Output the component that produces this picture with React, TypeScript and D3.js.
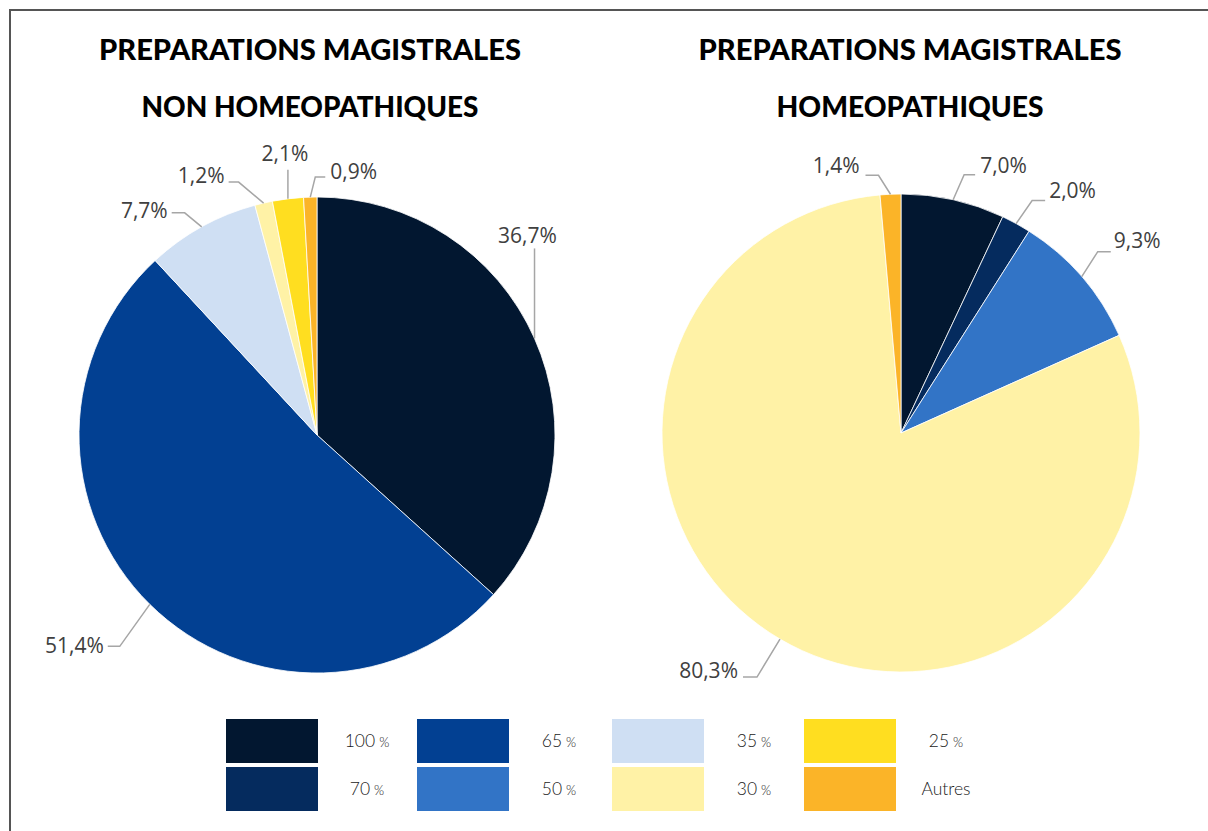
import React from "react";
import * as d3 from "d3";

// ---- data ----
const categories = ["100 %", "70 %", "65 %", "50 %", "35 %", "30 %", "25 %", "Autres"];
const categoryColors = ["#021730", "#052B5E", "#024092", "#3274C6", "#CFDFF3", "#FFF2A6", "#FFDE20", "#FBB428"];

const leftTitle = ["PREPARATIONS MAGISTRALES", "NON HOMEOPATHIQUES"];
const leftCats = ["100 %", "65 %", "35 %", "30 %", "25 %", "Autres"];
const leftValues = [36.7, 51.4, 7.7, 1.2, 2.1, 0.9];

const rightTitle = ["PREPARATIONS MAGISTRALES", "HOMEOPATHIQUES"];
const rightCats = ["100 %", "70 %", "50 %", "30 %", "Autres"];
const rightValues = [7.0, 2.0, 9.3, 80.3, 1.4];

// legend order (row-major, 2 rows x 4 cols)
const legendRow1 = ["100 %", "65 %", "35 %", "25 %"];
const legendRow2 = ["70 %", "50 %", "30 %", "Autres"];

// ---- layout (label leader offsets from slice edge midpoint) ----
type LabelLayout = { ex: number; ey: number; stub: number; tx: number; ty: number; anchor: "start" | "middle" | "end" };
const leftLabelLayout: LabelLayout[] = [
  { ex: 0, ey: -90, stub: 0, tx: -7, ty: -5, anchor: "middle" },
  { ex: -30, ey: 42, stub: -12, tx: -4, ty: 7, anchor: "end" },
  { ex: -17, ey: -14, stub: -13, tx: -4, ty: 5, anchor: "end" },
  { ex: -25, ey: -21, stub: -10, tx: -4, ty: 1, anchor: "end" },
  { ex: 0, ey: -29, stub: 0, tx: -3, ty: -9, anchor: "middle" },
  { ex: 5, ey: -20, stub: 10, tx: 5, ty: 2, anchor: "start" },
];
const rightLabelLayout: LabelLayout[] = [
  { ex: 11, ey: -25, stub: 11, tx: 5, ty: -2, anchor: "start" },
  { ex: 16, ey: -23, stub: 13, tx: 4, ty: -3, anchor: "start" },
  { ex: 16, ey: -25, stub: 13, tx: 3, ty: -4, anchor: "start" },
  { ex: -23, ey: 38, stub: -14, tx: -5, ty: 1, anchor: "end" },
  { ex: -12, ey: -19, stub: -13, tx: -6, ty: -2, anchor: "end" },
];

const fmt = (v: number) => v.toFixed(1).replace(".", ",") + "%";
const colorOf = (c: string) => categoryColors[categories.indexOf(c)];

function Pie({ cx, cy, r, values, cats, layout }: { cx: number; cy: number; r: number; values: number[]; cats: string[]; layout: LabelLayout[] }) {
  const pie = d3.pie<number>().sort(null).value((d) => d);
  const arcs = pie(values);
  const arc = d3.arc<d3.PieArcDatum<number>>().innerRadius(0).outerRadius(r);
  const edge = d3.arc<d3.PieArcDatum<number>>().innerRadius(r).outerRadius(r);
  return (
    <g transform={`translate(${cx},${cy})`}>
      {arcs.map((a, i) => (
        <path key={i} d={arc(a) || ""} fill={colorOf(cats[i])} stroke="#ffffff" strokeWidth={0.8} />
      ))}
      {arcs.map((a, i) => {
        const [ax, ay] = edge.centroid(a);
        const L = layout[i];
        const exx = ax + L.ex;
        const eyy = ay + L.ey;
        const sx = exx + L.stub;
        const pts = `${ax},${ay} ${exx},${eyy} ${sx},${eyy}`;
        return (
          <g key={"l" + i}>
            <polyline points={pts} fill="none" stroke="#A6A6A6" strokeWidth={1.5} />
            <text x={sx + L.tx} y={eyy + L.ty} textAnchor={L.anchor} fontFamily="'Open Sans', sans-serif" fontSize={21} fill="#404040">
              {fmt(values[i])}
            </text>
          </g>
        );
      })}
    </g>
  );
}

function Title({ cx, lines, widths }: { cx: number; lines: string[]; widths: number[] }) {
  return (
    <g>
      {lines.map((t, i) => (
        <text
          key={i}
          x={cx}
          y={60 + i * 57}
          textAnchor="middle"
          fontFamily="Lato, sans-serif"
          fontWeight={900}
          fontSize={29}
          fill="#000"
          textLength={widths[i]}
          lengthAdjust="spacingAndGlyphs"
        >
          {t}
        </text>
      ))}
    </g>
  );
}

export default function App() {
  const swX = [226, 417, 612, 804];
  const labX = [367, 559, 754, 946];
  const rowsY = [719, 767];
  return (
    <svg width={1208} height={831} style={{ position: "absolute", left: 0, top: 0 }}>
      <rect x={0} y={0} width={1208} height={831} fill="#fff" />
      <path d="M10,831 L10,10 L1208,10" fill="none" stroke="#555" strokeWidth={2} />
      <Title cx={310} lines={leftTitle} widths={[422, 337]} />
      <Title cx={910} lines={rightTitle} widths={[423, 267]} />
      <Pie cx={317} cy={435} r={238} values={leftValues} cats={leftCats} layout={leftLabelLayout} />
      <Pie cx={901} cy={433} r={239} values={rightValues} cats={rightCats} layout={rightLabelLayout} />
      {[legendRow1, legendRow2].map((row, ri) =>
        row.map((c, ci) => {
          const isPct = c.endsWith("%");
          return (
            <g key={`${ri}-${ci}`}>
              <rect x={swX[ci]} y={rowsY[ri]} width={92} height={44} fill={colorOf(c)} />
              <text x={labX[ci]} y={rowsY[ri] + 28} textAnchor="middle" fontFamily="Lato, sans-serif" fontWeight={300} fontSize={17.5} fill="#1a1a1a">
                {isPct ? (
                  <>
                    {c.replace(" %", "")}
                    <tspan fontSize={13} dx={4}>%</tspan>
                  </>
                ) : (
                  c
                )}
              </text>
            </g>
          );
        })
      )}
    </svg>
  );
}
